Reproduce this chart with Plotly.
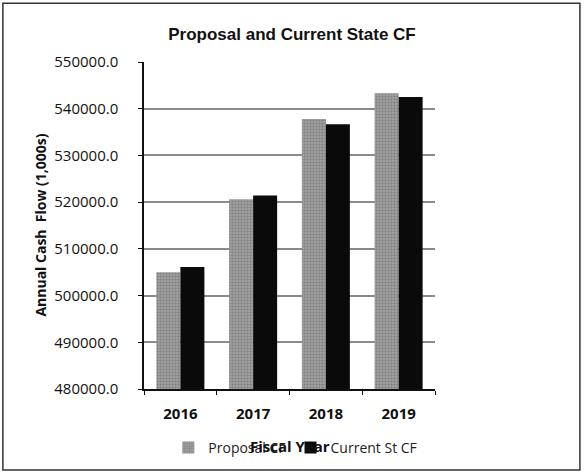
import plotly.graph_objects as go

# 数据
years = ["2016", "2017", "2018", "2019"]
proposal_cf = [505000, 520600, 537800, 543300]
current_cf = [506100, 521400, 536700, 542500]
y_ticks = [480000, 490000, 500000, 510000, 520000, 530000, 540000, 550000]

FONT = "Open Sans, Noto Sans, sans-serif"

fig = go.Figure()
fig.add_trace(go.Bar(
    x=years, y=proposal_cf, name="Proposal CF",
    marker=dict(color="#8c8c8c", line=dict(width=0),
                pattern=dict(shape=".", fgcolor="#5a5a5a", bgcolor="#a0a0a0",
                             size=3, solidity=0.4)),
))
fig.add_trace(go.Bar(
    x=years, y=current_cf, name="Current St CF",
    marker=dict(color="#0a0a0a", line=dict(width=0)),
))

fig.update_layout(
    width=584, height=476,
    barmode="group", bargap=0.34, bargroupgap=0,
    plot_bgcolor="white", paper_bgcolor="white",
    margin=dict(l=144, r=149, t=62, b=87),
    title=dict(text="<b>Proposal and Current State CF</b>", x=0.5, xanchor="center",
               y=0.928, yanchor="middle",
               font=dict(family="Liberation Sans, Arial", size=17, color="#111")),
    showlegend=True,
    legend=dict(orientation="h", x=0.52, xanchor="center", y=-0.18, yanchor="middle",
                font=dict(family=FONT, size=14, color="#222"),
                bgcolor="rgba(0,0,0,0)", itemwidth=30, tracegroupgap=0),
    font=dict(family=FONT, color="#111"),
)

fig.update_xaxes(
    type="category", showline=True, linecolor="#111", linewidth=1.5,
    ticks="outside", tickson="boundaries", ticklen=4, tickcolor="#111",
    ticklabelstandoff=10,
    tickfont=dict(family=FONT, size=15, color="#111", weight="bold"),
    showgrid=False,
)
fig.update_yaxes(
    range=[480000, 550000], tickvals=y_ticks, tickformat=".1f",
    showline=True, linecolor="#111", linewidth=1.5,
    ticks="outside", ticklen=4, tickcolor="#111",
    ticklabelstandoff=17,
    tickfont=dict(family=FONT, size=15, color="#111"),
    showgrid=True, gridcolor="#8a8a8a", gridwidth=1.8, zeroline=False,
)

# 坐标轴标题（原图中 Fiscal Year 与图例重叠）
fig.add_annotation(text="<b>Fiscal Year</b>", xref="paper", yref="paper",
                   x=0.5, y=-0.174, xanchor="center", yanchor="middle", showarrow=False,
                   font=dict(family=FONT, size=15, color="#111"))
fig.add_annotation(text="<b>Annual Cash  Flow (1,000s)</b>", xref="paper", yref="paper",
                   x=-0.357, y=0.5, xanchor="center", yanchor="middle",
                   textangle=-90, showarrow=False,
                   font=dict(family=FONT, size=14, color="#111"))

# 外框
fig.add_shape(type="rect", xref="paper", yref="paper",
              x0=-0.485, x1=1.498, y0=-0.248, y1=1.180,
              line=dict(color="#333", width=1.5))

fig.write_html("out.html", config={"displayModeBar": False},
               post_script="document.body.style.margin='0';")
